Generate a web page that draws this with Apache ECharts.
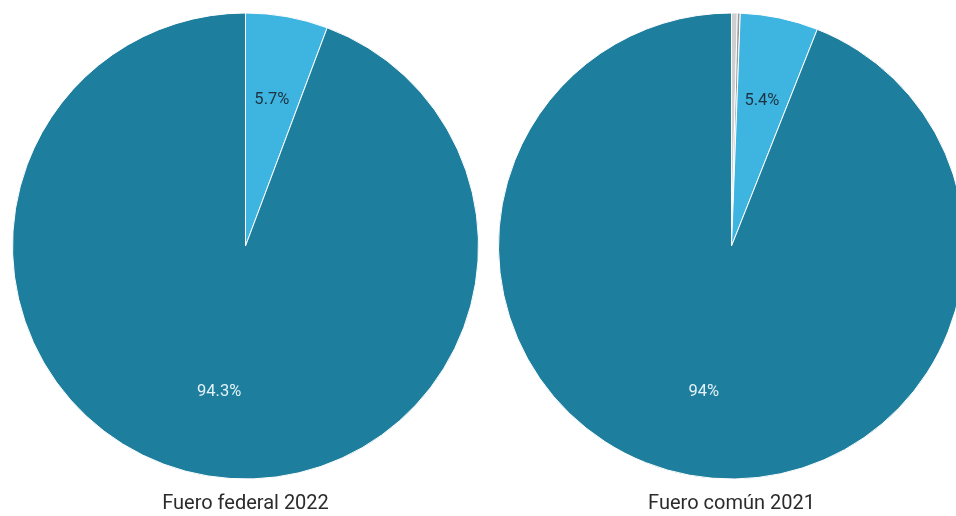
<!DOCTYPE html>
<html>
<head>
<meta charset="utf-8">
<script src="https://cdn.jsdelivr.net/npm/echarts@6/dist/echarts.min.js"></script>
<style>
  html, body { margin: 0; padding: 0; background: #fff; }
  #chart { width: 956px; height: 516px; }
</style>
</head>
<body>
<div id="chart"></div>
<script>
// Share of cases per category, by jurisdiction
const pieTitles = ['Fuero federal 2022', 'Fuero común 2021'];
const categories = ['No especificado', 'Otro', 'Mujeres', 'Hombres'];
const federal2022 = [0, 0, 5.7, 94.3];
const comun2021 = [0.4, 0.2, 5.4, 94.0];

const colors = ['#cfcfcf', '#9a9a9a', '#3eb5e1', '#1e7e9d'];
const labelColors = ['#333', '#333', '#1d3340', '#e4f2f7'];

const centers = [[245.5, 246], [731.5, 246]];
const R = 233;

function buildData(values, withLabels) {
  return categories.map((name, i) => ({
    name,
    value: values[i],
    label: {
      show: withLabels && values[i] >= 1,
      color: labelColors[i]
    }
  }));
}

const series = [];
[federal2022, comun2021].forEach((vals, k) => {
  // filled pie
  series.push({
    type: 'pie',
    center: centers[k],
    radius: R,
    startAngle: 90,
    clockwise: true,
    silent: true,
    animation: false,
    itemStyle: { borderColor: '#ffffff', borderWidth: 1 },
    label: { show: false },
    labelLine: { show: false },
    data: buildData(vals, false),
    color: colors
  });
  // transparent ring that places the percentage labels
  series.push({
    type: 'pie',
    center: centers[k],
    radius: [57, R],
    startAngle: 90,
    clockwise: true,
    silent: true,
    animation: false,
    itemStyle: { color: 'rgba(0,0,0,0)', borderWidth: 0 },
    label: {
      show: true,
      position: 'inside',
      fontFamily: 'Roboto',
      fontSize: 16.5,
      formatter: p => p.value + '%'
    },
    labelLine: { show: false },
    data: buildData(vals, true)
  });
});

const chart = echarts.init(document.getElementById('chart'), null, { renderer: 'canvas' });
chart.setOption({
  backgroundColor: '#ffffff',
  title: pieTitles.map((t, k) => ({
    text: t,
    left: centers[k][0],
    top: 494,
    padding: 0,
    textAlign: 'center',
    textStyle: { fontFamily: 'Roboto', fontSize: 20, fontWeight: 'normal', color: '#2b2b2b' }
  })),
  series
});
</script>
</body>
</html>
